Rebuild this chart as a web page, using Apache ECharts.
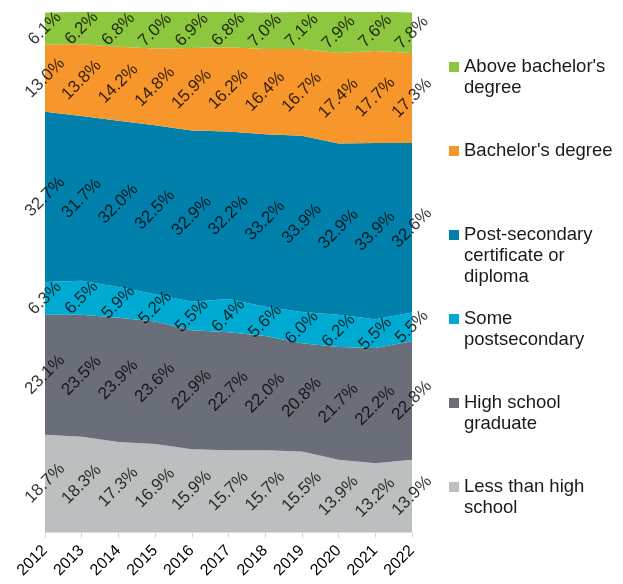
<!DOCTYPE html>
<html>
<head>
<meta charset="utf-8">
<script src="https://cdn.jsdelivr.net/npm/echarts@6/dist/echarts.min.js"></script>
<style>
  html, body { margin: 0; padding: 0; background: #fff; }
  #main { width: 623px; height: 584px; }
</style>
</head>
<body>
<div id="main"></div>
<script>
// data, bottom band first
const years = ['2012', '2013', '2014', '2015', '2016', '2017', '2018', '2019', '2020', '2021', '2022'];
const lessThanHighSchool = [18.7, 18.3, 17.3, 16.9, 15.9, 15.7, 15.7, 15.5, 13.9, 13.2, 13.9];
const highSchoolGrad = [23.1, 23.5, 23.9, 23.6, 22.9, 22.7, 22.0, 20.8, 21.7, 22.2, 22.8];
const somePostsecondary = [6.3, 6.5, 5.9, 5.2, 5.5, 6.4, 5.6, 6.0, 6.2, 5.5, 5.5];
const postSecCertificate = [32.7, 31.7, 32.0, 32.5, 32.9, 32.2, 33.2, 33.9, 32.9, 33.9, 32.6];
const bachelorsDegree = [13.0, 13.8, 14.2, 14.8, 15.9, 16.2, 16.4, 16.7, 17.4, 17.7, 17.3];
const aboveBachelors = [6.1, 6.2, 6.8, 7.0, 6.9, 6.8, 7.0, 7.1, 7.9, 7.6, 7.8];

const seriesNames = ['Less than high school', 'High school graduate', 'Some postsecondary',
  'Post-secondary certificate or diploma', "Bachelor's degree", "Above bachelor's degree"];
const legendText = {
  "Above bachelor's degree": "Above bachelor's\ndegree",
  "Bachelor's degree": "Bachelor's degree",
  'Post-secondary certificate or diploma': 'Post-secondary\ncertificate or\ndiploma',
  'Some postsecondary': 'Some\npostsecondary',
  'High school graduate': 'High school\ngraduate',
  'Less than high school': 'Less than high\nschool'
};
const colors = ['#bcbfbf', '#6a6e78', '#00abd3', '#0080ab', '#f7962b', '#8dc63f'];
const allValues = [lessThanHighSchool, highSchoolGrad, somePostsecondary, postSecCertificate, bachelorsDegree, aboveBachelors];

const FONT = '"Liberation Sans", Arial, sans-serif';
var chart = echarts.init(document.getElementById('main'));

var series = [];
allValues.forEach(function (vals, k) {
  series.push({
    name: seriesNames[k],
    type: 'line',
    stack: 'total',
    areaStyle: { color: colors[k], opacity: 1 },
    lineStyle: { width: 0 },
    itemStyle: { color: colors[k] },
    showSymbol: false,
    symbol: 'none',
    data: vals,
    z: 2
  });
});

// labels sit in the middle of each band
allValues.forEach(function (vals, k) {
  series.push({
    type: 'scatter',
    symbolSize: 0,
    silent: true,
    z: 5,
    data: vals.map(function (v, i) {
      var below = 0;
      for (var j = 0; j < k; j++) below += allValues[j][i];
      return { value: [i, below + v / 2], raw: v };
    }),
    label: {
      show: true,
      position: 'inside',
      rotate: 45,
      fontSize: 17,
      fontFamily: FONT,
      color: '#000',
      formatter: function (p) { return p.data.raw.toFixed(1) + '%'; }
    }
  });
});

// one legend per entry; blank lines on top keep the icon level with the first text line
var iconY = [487, 403, 319, 235, 151, 67];
var legends = seriesNames.map(function (name, k) {
  var n = legendText[name].split('\n').length;
  var h = (2 * n - 1) * 21;
  return {
    orient: 'vertical',
    left: 449,
    top: iconY[k] - h / 2,
    padding: 0,
    itemWidth: 10,
    itemHeight: 10,
    icon: 'rect',
    selectedMode: false,
    textStyle: { fontSize: 18.5, lineHeight: 21, fontFamily: FONT, color: '#1a1a1a' },
    formatter: function (nm) {
      var t = legendText[nm];
      var m = t.split('\n').length;
      return new Array(m).join('\n') + t;
    },
    data: [name]
  };
});

chart.setOption({
  animation: false,
  color: colors,
  legend: legends,
  grid: { left: 45, right: 211, top: 12, bottom: 52 },
  xAxis: {
    type: 'category',
    data: years,
    boundaryGap: false,
    axisLine: { lineStyle: { color: '#d9d9d9', width: 1 } },
    axisTick: { show: true, length: 6, lineStyle: { color: '#d9d9d9' } },
    axisLabel: { rotate: 45, fontSize: 16, fontFamily: FONT, color: '#000', margin: 16, interval: 0 },
    z: 10
  },
  yAxis: {
    type: 'value',
    min: 0,
    max: 100,
    show: false,
    splitLine: { show: false }
  },
  series: series
});
</script>
</body>
</html>
